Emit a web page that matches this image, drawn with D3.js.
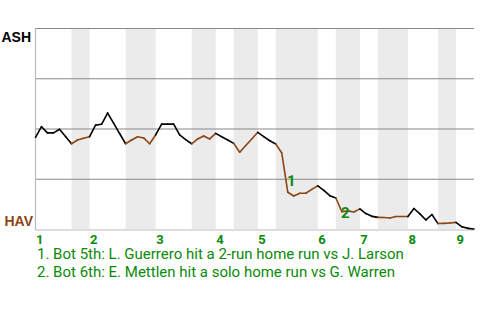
<!DOCTYPE html>
<html>
<head>
<meta charset="utf-8">
<script src="https://cdn.jsdelivr.net/npm/d3@7"></script>
<style>
  html, body { margin: 0; padding: 0; background: #fff; }
  svg { display: block; }
</style>
</head>
<body>
<svg id="chart" width="480" height="320"></svg>
<script>
// ---- data ----
const teams = ["ASH", "HAV"];             // away (top), home (bottom)
// plate appearances per half-inning: T1, B1, T2, B2, ... T9
const halfInningPAs = [6, 3, 6, 5, 6, 4, 3, 4, 3, 7, 3, 4, 3, 5, 5, 3, 3];
const inningLabels = ["1", "2", "3", "4", "5", "6", "7", "8", "9"];
// ASH win probability (%) after each plate appearance (index 0 = game start)
const winProbASH = [
  45.6, 50.9, 47.8, 47.8, 49.6, 46.0, 42.4,
  44.3, 45.1, 45.9,
  51.7, 52.1, 57.7, 52.7, 47.5, 42.4,
  44.3, 45.9, 45.3, 42.4, 46.8,
  52.2, 52.2, 52.2, 46.8, 44.5, 42.4,
  44.8, 46.3, 44.8, 47.6,
  45.9, 44.3, 42.6,
  38.2, 41.5, 44.8, 48.1,
  46.0, 43.9, 42.3,
  37.8, 18.3, 16.4, 17.8, 17.8, 19.7, 21.5,
  19.2, 16.6, 15.4,
  8.6, 9.0, 8.5, 10.0,
  7.7, 6.3, 5.8,
  5.7, 5.5, 6.2, 6.2, 6.2,
  10.2, 7.5, 4.5, 7.2, 2.7,
  2.8, 3.0, 3.3,
  1.1, 0.3, 0.0
];
const gridValues = [25, 50, 75, 100];
// key events: index of plate appearance where the event ended
const eventIndex = [42, 51];
const eventLabels = ["1", "2"];
const eventTexts = [
  "1. Bot 5th: L. Guerrero hit a 2-run home run vs J. Larson",
  "2. Bot 6th: E. Mettlen hit a solo home run vs G. Warren"
];

// ---- layout ----
const svg = d3.select("#chart");
const pLeft = 35.5, pRight = 474, pTop = 28, pBottom = 229;
const nPA = winProbASH.length - 1;
const x = d3.scaleLinear().domain([0, nPA]).range([pLeft, pRight]);
const y = d3.scaleLinear().domain([0, 100]).range([pBottom, pTop]);

const awayColor = "#000000";
const homeColor = "#8b4513";
const green = "#0a8a0a";

// cumulative boundaries of half-innings
const bounds = [0];
halfInningPAs.forEach(n => bounds.push(bounds[bounds.length - 1] + n));
const halves = halfInningPAs.map((n, i) => ({ i, start: bounds[i], end: bounds[i + 1] }));

// shaded bands for bottom halves
svg.append("g").selectAll("rect")
  .data(halves.filter(h => h.i % 2 === 1))
  .join("rect")
  .attr("x", d => x(d.start))
  .attr("width", d => x(d.end) - x(d.start))
  .attr("y", pTop)
  .attr("height", pBottom - pTop)
  .attr("fill", "#ebebeb");

// horizontal gridlines via axis
const grid = svg.append("g")
  .attr("transform", `translate(${pLeft},0)`)
  .call(d3.axisLeft(y).tickValues(gridValues).tickSize(-(pRight - pLeft)).tickFormat(""));
grid.select(".domain").remove();
grid.selectAll(".tick line").attr("stroke", "#888").attr("stroke-width", 1.2);

// left & bottom axis lines
svg.append("line").attr("x1", pLeft).attr("x2", pLeft).attr("y1", pTop).attr("y2", pBottom + 1)
  .attr("stroke", "#bbb").attr("stroke-width", 1.2);
svg.append("line").attr("x1", pLeft).attr("x2", pRight).attr("y1", pBottom + 1).attr("y2", pBottom + 1)
  .attr("stroke", "#bbb").attr("stroke-width", 1.2);

// segments colored by batting team
const halfOf = idx => {
  for (let h = 0; h < halves.length; h++) if (idx <= halves[h].end) return h;
  return halves.length - 1;
};
const segs = d3.range(nPA).map(i => ({ i, h: halfOf(i + 1) }));
svg.append("g").selectAll("line")
  .data(segs)
  .join("line")
  .attr("x1", d => x(d.i))
  .attr("y1", d => y(winProbASH[d.i]))
  .attr("x2", d => x(d.i + 1))
  .attr("y2", d => y(winProbASH[d.i + 1]))
  .attr("stroke", d => d.h % 2 === 0 ? awayColor : homeColor)
  .attr("stroke-width", 1.6)
  .attr("stroke-linecap", "round");

// team labels
svg.append("text").attr("x", 31).attr("y", 41.5).attr("text-anchor", "end")
  .attr("font-family", "Liberation Sans, Arial, sans-serif").attr("font-weight", "bold")
  .attr("font-size", 14).attr("fill", awayColor).text(teams[0]);
svg.append("text").attr("x", 33).attr("y", 225.5).attr("text-anchor", "end")
  .attr("font-family", "Liberation Sans, Arial, sans-serif").attr("font-weight", "bold")
  .attr("font-size", 14).attr("fill", homeColor).text(teams[1]);

// inning labels
svg.append("g").selectAll("text")
  .data(inningLabels)
  .join("text")
  .attr("x", (d, i) => x(bounds[i * 2]) + 0.5)
  .attr("y", 243.5)
  .attr("font-family", "Roboto, sans-serif").attr("font-weight", "bold")
  .attr("font-size", 13).attr("fill", green)
  .text(d => d);

// event markers
svg.append("g").selectAll("text")
  .data(eventIndex)
  .join("text")
  .attr("x", d => (x(d) + x(d - 1)) / 2 + 6.5)
  .attr("y", d => (y(winProbASH[d]) + y(winProbASH[d - 1])) / 2 + 13.5)
  .attr("text-anchor", "middle")
  .attr("font-family", "Roboto, sans-serif").attr("font-weight", "bold")
  .attr("font-size", 15).attr("fill", green)
  .text((d, i) => eventLabels[i]);

// event descriptions
svg.append("g").selectAll("text")
  .data(eventTexts)
  .join("text")
  .attr("x", 37)
  .attr("y", (d, i) => 258.5 + i * 18)
  .attr("font-family", "Roboto, sans-serif")
  .attr("font-size", 15).attr("fill", green)
  .text(d => d);
</script>
</body>
</html>
